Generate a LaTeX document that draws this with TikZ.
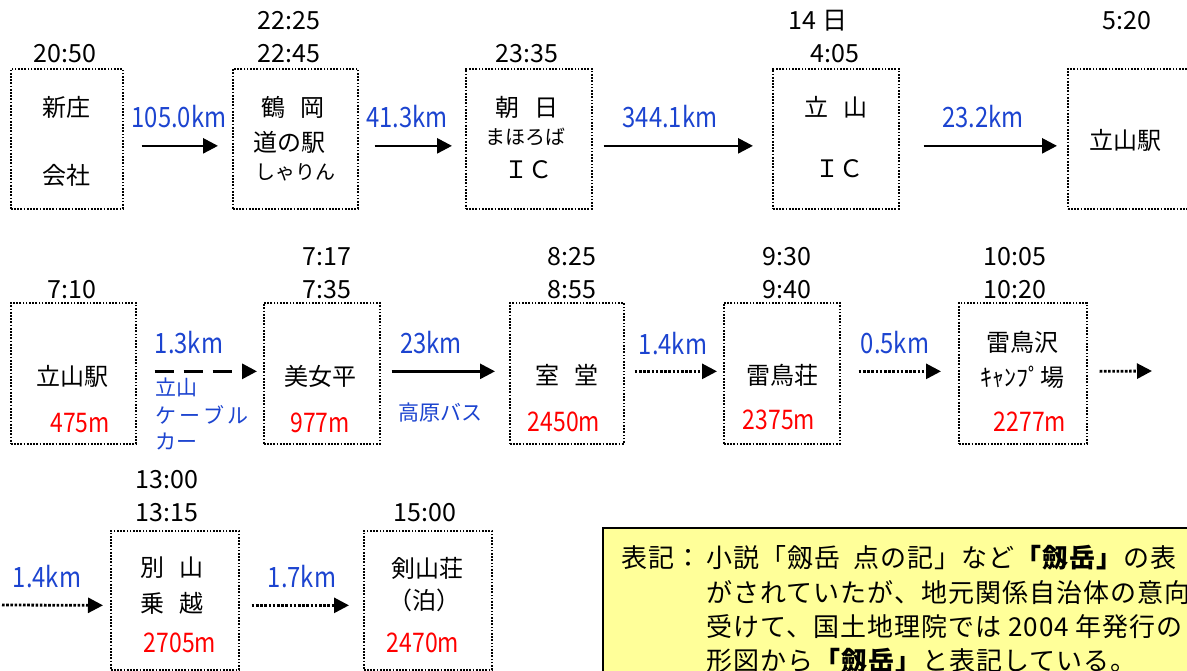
\documentclass[tikz,border=0pt]{standalone}
\usepackage{fontspec}
\setmainfont{Noto Sans CJK JP}
\newfontfamily\numf{Noto Sans CJK JP}[FakeStretch=0.85]
\newfontfamily\notef{Noto Sans CJK JP}[LetterSpace=4]
\usetikzlibrary{arrows.meta,calc}
\definecolor{lblue}{RGB}{28,68,208}
\definecolor{lred}{RGB}{255,0,0}
\definecolor{noteyellow}{RGB}{255,255,153}
\tikzset{
  bx/.style={draw, line width=1.7pt, dash pattern=on 1.7pt off 1.5pt, anchor=north west, inner sep=0pt},
  jp/.style={font=\fontsize{24}{28}\selectfont, inner sep=0pt},
  sm/.style={font=\fontsize{20}{24}\selectfont, inner sep=0pt},
  tm/.style={font=\fontsize{25}{30}\selectfont, inner sep=0pt},
  km/.style={font=\numf\fontsize{28}{32}\selectfont, text=lblue, inner sep=0pt},
  alt/.style={font=\numf\fontsize{27}{32}\selectfont, text=lred, inner sep=0pt},
  bl/.style={font=\fontsize{21}{25}\selectfont, text=lblue, inner sep=0pt},
  arr/.style={line width=2.6pt, -{Triangle[length=15pt,width=15pt]}},
  dotarr/.style={arr, line width=2.8pt, dash pattern=on 2.6pt off 1.6pt},
  dasharr/.style={arr, line width=3pt, dash pattern=on 19pt off 10pt},
  notetxt/.style={font=\notef\fontsize{26}{30}\selectfont, inner sep=0pt, anchor=west},
}
\begin{document}
\begin{tikzpicture}[x=1pt,y=-1pt]
\useasboundingbox (0,0) rectangle (1187,671);
\clip (0,0) rectangle (1187,671);
\fill[white] (0,0) rectangle (1187,671);

% ---------- row 1 ----------
\node[bx, minimum width=112pt, minimum height=140pt] (b1) at (10,68) {};
\node[bx, minimum width=125pt, minimum height=140pt] (b2) at (232,68) {};
\node[bx, minimum width=126pt, minimum height=140pt] (b3) at (465,68) {};
\node[bx, minimum width=126pt, minimum height=140pt] (b4) at (772,68) {};
\node[bx, minimum width=140pt, minimum height=140pt] (b5) at (1067,68) {};

\node[tm] (t1) at (65,54) {20:50};
\node[tm] (t2a) at (289,21) {22:25};
\node[tm] (t2b) at (289,54) {22:45};
\node[tm] (t3) at (527,54) {23:35};
\node[tm] (t4a) at (818,21) {14 日};
\node[tm] (t4b) at (835,54) {4:05};
\node[tm] (t5) at (1127,21) {5:20};

\node[jp] (l1a) at (66,107) {新庄};
\node[jp] (l1b) at (66,175) {会社};
\node[jp] (l2a) at (293,107) {鶴\hspace{15pt}岡};
\node[jp] (l2b) at (289,142) {道の駅};
\node[sm] (l2c) at (295,172) {しゃりん};
\node[jp] (l3a) at (527,107) {朝\hspace{15pt}日};
\node[sm] (l3b) at (525,137) {まほろば};
\node[jp] (l3c) at (528,170) {ＩＣ};
\node[jp] (l4a) at (836,107) {立\hspace{15pt}山};
\node[jp] (l4b) at (839,169) {ＩＣ};
\node[jp] (l5a) at (1125,140) {立山駅};

\node[km] (k1) at (179,117) {105.0km};
\node[km] (k2) at (407,117) {41.3km};
\node[km] (k3) at (670,117) {344.1km};
\node[km] (k4) at (983,117) {23.2km};

\draw[arr] ($(b1.east)+(18,7)$) -- ($(b2.west)+(-14,7)$);
\draw[arr] ($(b2.east)+(16,7)$) -- ($(b3.west)+(-13,7)$);
\draw[arr] ($(b3.east)+(11,7)$) -- ($(b4.west)+(-19,7)$);
\draw[arr] ($(b4.east)+(24,7)$) -- ($(b5.west)+(-10,7)$);

% ---------- row 2 ----------
\node[bx, minimum width=125pt, minimum height=141pt] (bA) at (10,302) {};
\node[bx, minimum width=116pt, minimum height=141pt] (bB) at (263,302) {};
\node[bx, minimum width=114pt, minimum height=141pt] (bC) at (509,302) {};
\node[bx, minimum width=116pt, minimum height=141pt] (bD) at (723,302) {};
\node[bx, minimum width=128pt, minimum height=141pt] (bE) at (958,302) {};

\node[tm] (tA) at (72,290) {7:10};
\node[tm] (tBa) at (327,257) {7:17};
\node[tm] (tBb) at (327,290) {7:35};
\node[tm] (tCa) at (572,257) {8:25};
\node[tm] (tCb) at (572,290) {8:55};
\node[tm] (tDa) at (787,257) {9:30};
\node[tm] (tDb) at (787,290) {9:40};
\node[tm] (tEa) at (1015,257) {10:05};
\node[tm] (tEb) at (1015,290) {10:20};

\node[jp] (lA) at (72,376) {立山駅};
\node[alt] (hA) at (80,423) {475m};
\node[jp] (lB) at (320,376) {美女平};
\node[alt] (hB) at (320,423) {977m};
\node[jp] (lC) at (567,375) {室\hspace{15pt}堂};
\node[alt] (hC) at (564,422) {2450m};
\node[jp] (lD) at (782,375) {雷鳥荘};
\node[alt] (hD) at (779,420) {2375m};
\node[jp] (lEa) at (1022,342) {雷鳥沢};
\node[jp] (lEb) at (1022,377) {ｷｬﾝﾌﾟ場};
\node[alt] (hE) at (1030,422) {2277m};

\node[km] (kA) at (189,343) {1.3km};
\node[bl, anchor=west] (cA) at (155,387) {立山};
\node[bl, anchor=west] (cB) at (155,415) {ケ\hspace{3pt}ー\hspace{3pt}ブ\hspace{3pt}ル};
\node[bl, anchor=west] (cC) at (155,442) {カー};
\node[km] (kB) at (431,343) {23km};
\node[bl] (bus) at (440,413) {高原バス};
\node[km] (kC) at (673,344) {1.4km};
\node[km] (kD) at (895,343) {0.5km};

\coordinate (eout) at (1152,371);
\draw[dasharr] ($(bA.east)+(18,-2)$) -- ($(bB.west)+(-6,-2)$);
\draw[arr] ($(bB.east)+(11,-2)$) -- ($(bC.west)+(-14,-2)$);
\draw[dotarr] ($(bC.east)+(10,-2)$) -- ($(bD.west)+(-6,-2)$);
\draw[dotarr] ($(bD.east)+(18,-2)$) -- ($(bE.west)+(-17,-2)$);
\draw[dotarr] ($(bE.east)+(12,-2)$) -- (eout);

% ---------- row 3 ----------
\node[bx, minimum width=128pt, minimum height=139pt] (bF) at (110,530) {};
\node[bx, minimum width=128pt, minimum height=139pt] (bG) at (363,530) {};

\node[tm] (tFa) at (167,480) {13:00};
\node[tm] (tFb) at (167,513) {13:15};
\node[tm] (tG) at (425,513) {15:00};

\node[jp] (lFa) at (172,568) {別\hspace{15pt}山};
\node[jp] (lFb) at (172,603) {乗\hspace{15pt}越};
\node[alt] (hF) at (180,643) {2705m};
\node[jp] (lGa) at (427,568) {剣山荘};
\node[jp] (lGb) at (424,600) {（泊）};
\node[alt] (hG) at (423,643) {2470m};

\node[km] (kF0) at (47,577) {1.4km};
\node[km] (kF) at (302,577) {1.7km};

\coordinate (fin) at (2,605);
\draw[dotarr] (fin) -- ($(bF.west)+(-7,5)$);
\draw[dotarr] ($(bF.east)+(12,5)$) -- ($(bG.west)+(-14,5)$);

% ---------- note ----------
\node[draw, line width=2pt, fill=noteyellow, anchor=north west, minimum width=640pt, minimum height=200pt, inner sep=0pt] (note) at (602,527) {};
\node[notetxt] (n0) at (621,558) {表記：};
\node[notetxt] (n1) at (706,558) {小説「劔岳\hspace{13pt}点の記」など\textbf{「劔岳」}の表};
\node[notetxt] (n2) at (706,593) {がされていたが、地元関係自治体の意向};
\node[notetxt] (n3) at (706,627) {受けて、国土地理院では 2004 年発行の};
\node[notetxt] (n4) at (706,661) {形図から\textbf{「劔岳」}と表記している。};
\end{tikzpicture}
\end{document}
